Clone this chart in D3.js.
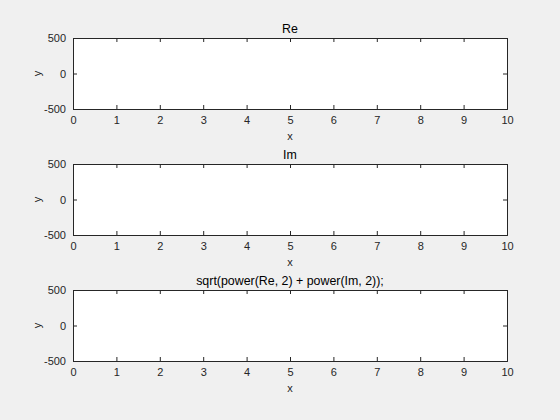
<!DOCTYPE html>
<html><head><meta charset="utf-8">
<script src="https://cdn.jsdelivr.net/npm/d3@7"></script>
<style>html,body{margin:0;padding:0;background:#f0f0f0;}svg{display:block;}</style>
</head><body>
<script>
const titles = ["Re", "Im", "sqrt(power(Re, 2) + power(Im, 2));"];
const xTicks = [0,1,2,3,4,5,6,7,8,9,10];
const yTicks = [-500, 0, 500];
const xDomain = [0, 10];
const yDomain = [-500, 500];
const seriesRe = [];
const seriesIm = [];
const seriesAbs = [];
const allSeries = [seriesRe, seriesIm, seriesAbs];

const W = 560, H = 420;
const svg = d3.select("body").append("svg").attr("width", W).attr("height", H);
svg.append("rect").attr("width", W).attr("height", H).attr("fill", "#f0f0f0");

const left = 73, right = 507, axH = 71;
const tops = [38, 164, 290];
const col = "#262626";
const font = "Liberation Sans, Arial, sans-serif";
const fmt = d => String(d);

tops.forEach((top, i) => {
  const x = d3.scaleLinear().domain(xDomain).range([left, right]);
  const y = d3.scaleLinear().domain(yDomain).range([top + axH, top]);
  const g = svg.append("g");
  g.append("rect").attr("x", left).attr("y", top).attr("width", right-left).attr("height", axH)
    .attr("fill", "#fff");
  g.append("path").datum(allSeries[i]).attr("fill","none").attr("stroke","#0072bd")
    .attr("d", d3.line().x(d=>x(d[0])).y(d=>y(d[1])));
  const tl = 4;
  const bx = g.append("g").attr("transform", `translate(0,${top+axH})`)
    .call(d3.axisBottom(x).tickValues(xTicks).tickSize(-tl).tickPadding(7).tickFormat(fmt));
  const tx = g.append("g").attr("transform", `translate(0,${top})`)
    .call(d3.axisTop(x).tickValues(xTicks).tickSize(-tl).tickFormat(""));
  const ly = g.append("g").attr("transform", `translate(${left},0)`)
    .call(d3.axisLeft(y).tickValues(yTicks).tickSize(-tl).tickPadding(7).tickFormat(fmt));
  const ry = g.append("g").attr("transform", `translate(${right},0)`)
    .call(d3.axisRight(y).tickValues(yTicks).tickSize(-tl).tickFormat(""));
  [bx,tx,ly,ry].forEach(a => {
    a.select(".domain").attr("stroke", col).attr("stroke-width", 1);
    a.selectAll(".tick line").attr("stroke", col);
    a.selectAll("text").attr("fill", col).style("font-family", font).style("font-size", "11px");
  });
  g.append("text").attr("x", (left+right)/2).attr("y", top - 5).attr("text-anchor","middle")
    .style("font-family", font).style("font-size","12.4px").attr("fill", "#000").text(titles[i]);
  g.append("text").attr("x", (left+right)/2).attr("y", top + axH + 31).attr("text-anchor","middle")
    .style("font-family", font).style("font-size","11px").attr("fill", col).text("x");
  g.append("text").attr("transform", `translate(${41},${top+axH/2}) rotate(-90)`).attr("text-anchor","middle")
    .style("font-family", font).style("font-size","11px").attr("fill", col).text("y");
});
</script>
</body></html>
